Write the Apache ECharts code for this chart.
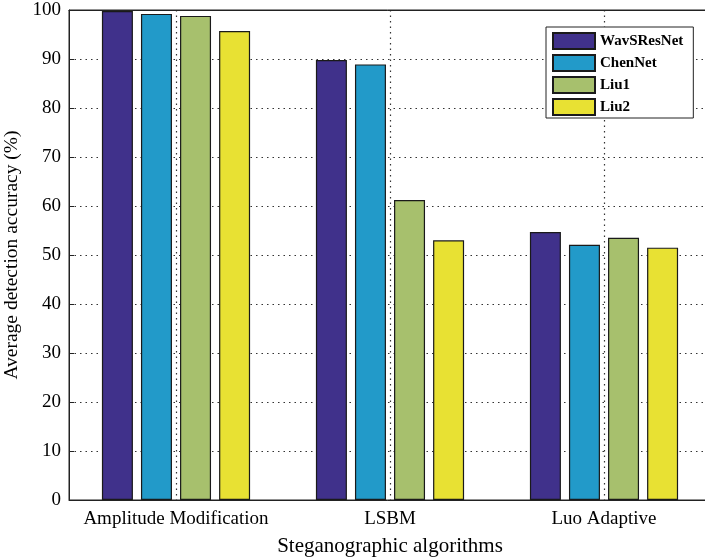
<!DOCTYPE html>
<html><head><meta charset="utf-8">
<script src="https://cdn.jsdelivr.net/npm/echarts@6/dist/echarts.min.js"></script>
<style>html,body{margin:0;padding:0;background:#fff}#c{width:705px;height:559px}</style>
</head><body><div id="c"></div>
<script>
const categories = ['Amplitude Modification', 'LSBM', 'Luo Adaptive'];
const seriesNames = ['WavSResNet', 'ChenNet', 'Liu1', 'Liu2'];
const wavSResNet = [99.8, 89.8, 54.7];
const chenNet = [99.2, 88.9, 52.1];
const liu1 = [98.8, 61.2, 53.5];
const liu2 = [95.7, 53.0, 51.5];
const yTicks = [0, 10, 20, 30, 40, 50, 60, 70, 80, 90, 100];
const colors = ['#40318B', '#229AC9', '#A7C06D', '#E8E133'];
const values = [wavSResNet, chenNet, liu1, liu2];
// helper grid axis: half-band points, vertical grid lines drawn at the odd ones (category centres)
const halfBands = ['', '', '', '', '', '', ''];

const font = '"Liberation Serif", "Times New Roman", serif';
const chart = echarts.init(document.getElementById('c'), null, {renderer: 'canvas'});
chart.setOption({
  animation: false,
  textStyle: {fontFamily: font},
  grid: {left: 69, top: 10, width: 642, height: 490, outerBoundsMode: 'none', containLabel: false,
         show: true, borderColor: '#222', borderWidth: 1, backgroundColor: 'transparent'},
  legend: {
    orient: 'vertical', left: 546, top: 27, icon: 'rect',
    padding: [5, 10, 2, 6], itemGap: 4, itemWidth: 42, itemHeight: 16,
    borderColor: '#222', borderWidth: 1, backgroundColor: '#fff',
    textStyle: {fontFamily: font, fontWeight: 'bold', fontSize: 15, color: '#000'},
    data: seriesNames
  },
  xAxis: [{
    type: 'category', data: categories, position: 'bottom',
    axisLine: {lineStyle: {color: '#222'}},
    axisTick: {inside: true, alignWithLabel: true, length: 5, lineStyle: {color: '#222'}},
    axisLabel: {interval: 0, fontFamily: font, fontSize: 19, color: '#000', margin: 10},
    splitLine: {show: false},
    name: 'Steganographic algorithms', nameLocation: 'middle', nameGap: 36,
    nameTextStyle: {fontFamily: font, fontSize: 21, color: '#000'}
  }, {
    type: 'category', data: categories, position: 'top',
    axisLine: {lineStyle: {color: '#222'}},
    axisTick: {inside: true, alignWithLabel: true, length: 5, lineStyle: {color: '#222'}},
    axisLabel: {show: false}, splitLine: {show: false}
  }, {
    type: 'category', data: halfBands, boundaryGap: false, position: 'bottom',
    axisLine: {show: false}, axisTick: {show: false}, axisLabel: {show: false},
    splitLine: {show: true, interval: (i) => i % 2 === 1, lineStyle: {type: [1.5, 4], color: '#333', width: 1.2}}
  }],
  yAxis: {
    type: 'value', min: yTicks[0], max: yTicks[yTicks.length - 1], interval: 10,
    axisLine: {show: true, lineStyle: {color: '#222'}},
    axisTick: {show: true, inside: true, length: 5, lineStyle: {color: '#222'}},
    axisLabel: {fontFamily: font, fontSize: 19, color: '#000', margin: 8},
    splitLine: {show: true, lineStyle: {type: [1.5, 4], color: '#333', width: 1.2}},
    name: 'Average detection accuracy (%)', nameLocation: 'middle', nameGap: 42,
    nameTextStyle: {fontFamily: font, fontSize: 19.5, color: '#000'}
  },
  series: seriesNames.map((n, i) => ({
    name: n, type: 'bar', data: values[i], barWidth: 31, barGap: '26%',
    itemStyle: {color: colors[i], borderColor: '#1a1a1a', borderWidth: 1.2}
  }))
});
</script></body></html>
